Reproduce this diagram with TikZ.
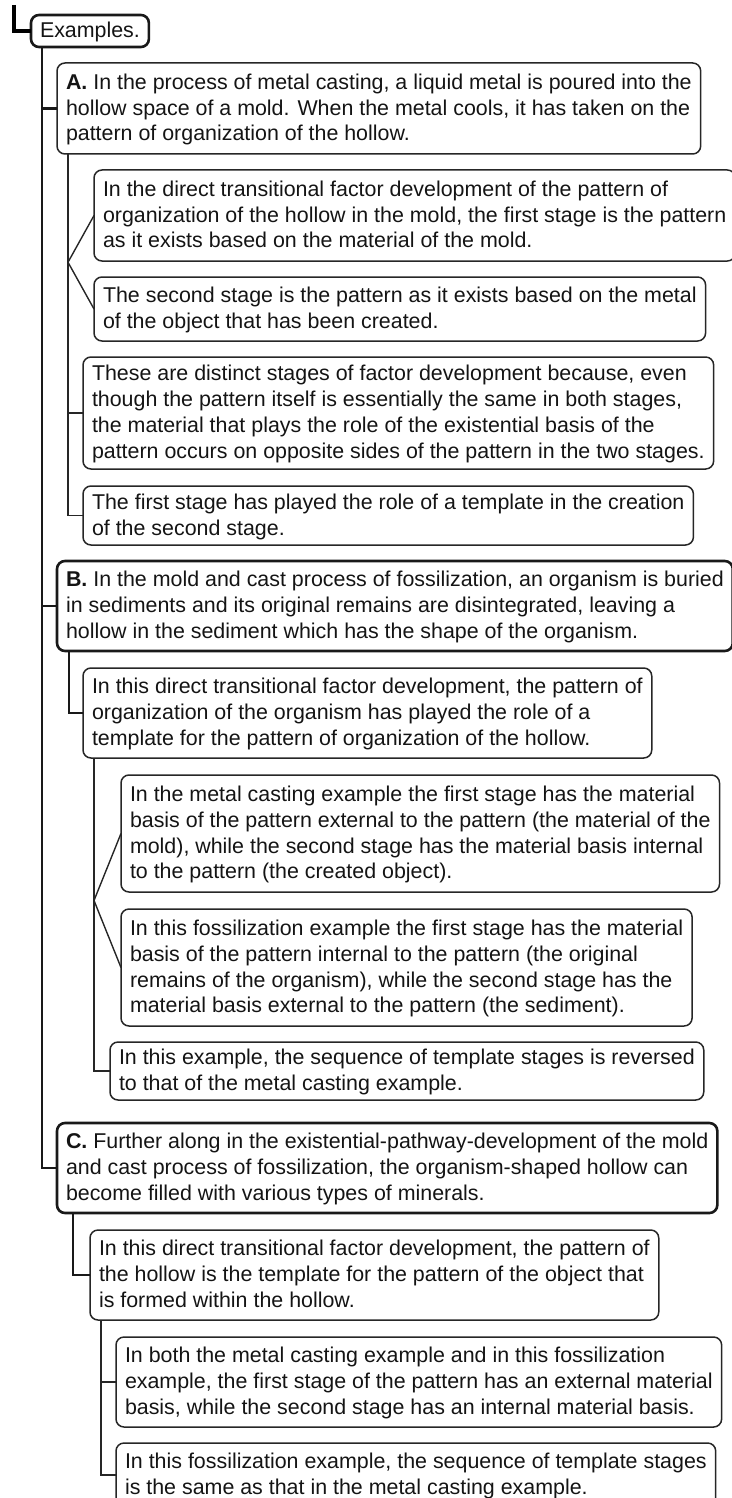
\documentclass[tikz,border=0pt]{standalone}
\usepackage{fontspec}
\setmainfont{Liberation Sans}
\usetikzlibrary{calc}
\newcommand\zs{\rule[-6.3pt]{0pt}{25.8pt}}
\tikzset{
  bx/.style={draw=black!85, line width=1.5pt, rounded corners=8pt, align=left,
    inner xsep=9pt, inner ysep=2pt, anchor=north west, outer sep=0pt, text=black!92,
    font=\fontsize{21.4pt}{25.8pt}\selectfont},
  bxk/.style={bx, line width=2.6pt, draw=black!90},
  cn/.style={draw=black!85, line width=1.4pt},
  cnk/.style={draw=black!90, line width=2.8pt},
  cnr/.style={draw=black, line width=4pt},
}
\begin{document}
\begin{tikzpicture}[x=1pt, y=-1pt]
\useasboundingbox (0,0) rectangle (731,1498);
\node[bxk, minimum height=32pt, inner ysep=0pt] (Ex) at (31,15) {\zs Examples.};
\node[bx, minimum height=91pt] (A) at (57,63) {\zs\textbf{A.} In the process of metal casting, a liquid metal is poured into the\\hollow space of a mold. When the metal cools, it has taken on the\\\zs pattern of organization of the hollow.};
\node[bx, minimum height=91pt] (A1) at (94,170) {\zs In the direct transitional factor development of the pattern of\\organization of the hollow in the mold, the first stage is the pattern\\\zs as it exists based on the material of the mold.};
\node[bx, minimum height=64pt] (A2) at (94,277) {\zs The second stage is the pattern as it exists based on the metal\\\zs of the object that has been created.};
\node[bx, minimum height=112pt] (A3) at (83,357) {\zs These are distinct stages of factor development because, even\\though the pattern itself is essentially the same in both stages,\\the material that plays the role of the existential basis of the\\\zs pattern occurs on opposite sides of the pattern in the two stages.};
\node[bx, minimum height=59pt] (A4) at (83,486) {\zs The first stage has played the role of a template in the creation\\\zs of the second stage.};
\node[bxk, minimum height=90pt] (B) at (57,561) {\zs\textbf{B.} In the mold and cast process of fossilization, an organism is buried\\in sediments and its original remains are disintegrated, leaving a\\\zs hollow in the sediment which has the shape of the organism.};
\node[bx, minimum height=90pt] (B1) at (83,668) {\zs In this direct transitional factor development, the pattern of\\organization of the organism has played the role of a\\\zs template for the pattern of organization of the hollow.};
\node[bx, minimum height=117pt] (B1a) at (121,775) {\zs In the metal casting example the first stage has the material\\basis of the pattern external to the pattern (the material of the\\mold), while the second stage has the material basis internal\\\zs to the pattern (the created object).};
\node[bx, minimum height=117pt] (B1b) at (121,909) {\zs In this fossilization example the first stage has the material\\basis of the pattern internal to the pattern (the original\\remains of the organism), while the second stage has the\\\zs material basis external to the pattern (the sediment).};
\node[bx, minimum height=58pt] (B1c) at (110,1042) {\zs In this example, the sequence of template stages is reversed\\\zs to that of the metal casting example.};
\node[bxk, minimum height=90pt] (C) at (57,1123) {\zs\textbf{C.} Further along in the existential-pathway-development of the mold\\and cast process of fossilization, the organism-shaped hollow can\\\zs become filled with various types of minerals.};
\node[bx, minimum height=90pt] (C1) at (90,1230) {\zs In this direct transitional factor development, the pattern of\\the hollow is the template for the pattern of the object that\\\zs is formed within the hollow.};
\node[bx, minimum height=90pt] (C1a) at (116,1337) {\zs In both the metal casting example and in this fossilization\\example, the first stage of the pattern has an external material\\\zs basis, while the second stage has an internal material basis.};
\node[bx, minimum height=64pt] (C1b) at (116,1443) {\zs In this fossilization example, the sequence of template stages\\\zs is the same as that in the metal casting example.};
% root
\coordinate (r) at (14,5);
\draw[cnr] (r) |- (Ex.west);
% trunk
\coordinate (tr) at ([xshift=11pt]Ex.south west);
\draw[cnk] (tr) |- (C.west);
\draw[cnk] (A.west -| tr) -- (A.west);
\draw[cnk] (B.west -| tr) -- (B.west);
% A children
\coordinate (ta) at ([xshift=11pt]A.south west);
\draw[cn] (ta) |- (A4.west);
\draw[cn] (A3.west -| ta) -- (A3.west);
\coordinate (ma) at ($(A1.west)!0.5!(A2.west)$);
\coordinate (fa) at (ma -| ta);
\draw[cn] (A1.west) -- (fa) -- (A2.west);
% B children
\coordinate (tb) at ([xshift=12pt]B.south west);
\draw[cnk] (tb) |- (B1.west);
\coordinate (tb1) at ([xshift=11pt]B1.south west);
\draw[cn] (tb1) |- (B1c.west);
\coordinate (mb) at ($(B1a.west)!0.5!(B1b.west)$);
\coordinate (fb) at (mb -| tb1);
\draw[cn] (B1a.west) -- (fb) -- (B1b.west);
% C children
\coordinate (tc) at ([xshift=16pt]C.south west);
\draw[cnk] (tc) |- (C1.west);
\coordinate (tc1) at ([xshift=11pt]C1.south west);
\draw[cn] (tc1) |- (C1b.west);
\draw[cn] (C1a.west -| tc1) -- (C1a.west);
\end{tikzpicture}
\end{document}
